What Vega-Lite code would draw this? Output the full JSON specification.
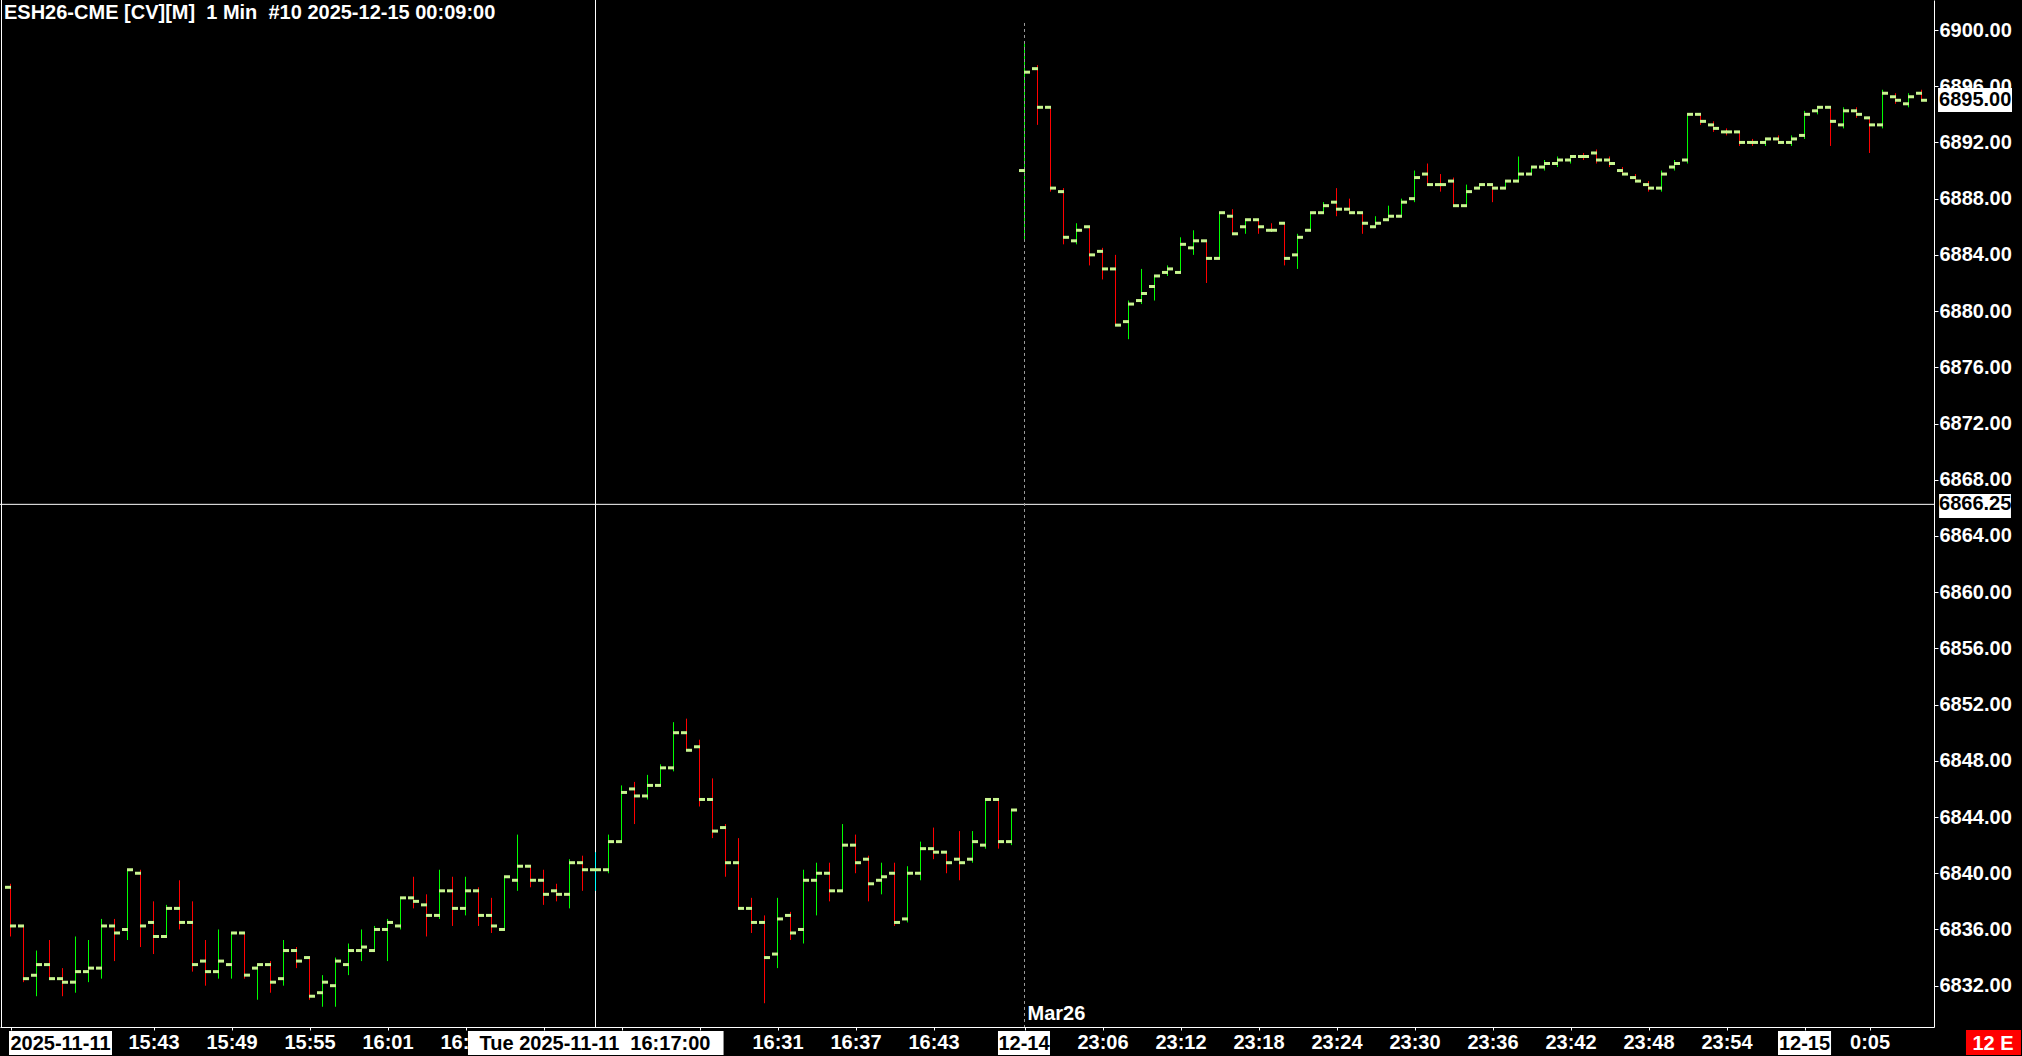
{
"$schema": "https://vega.github.io/schema/vega-lite/v6.json",
"width": 1934, "height": 1027,
"autosize": {"type": "none"},
"padding": {"left": 0, "top": 0, "right": 88, "bottom": 29},
"background": "#000000",
"config": {"view": {"stroke": null}, "font": "Liberation Sans"},
"datasets": {"bars": [
{"i":0,"o":6839,"h":6839.25,"l":6835.5,"c":6836.25},
{"i":1,"o":6836.25,"h":6836.25,"l":6832.25,"c":6832.5},
{"i":2,"o":6832.75,"h":6834.5,"l":6831.25,"c":6833.5},
{"i":3,"o":6833.5,"h":6835.25,"l":6832.5,"c":6832.5},
{"i":4,"o":6832.5,"h":6833.25,"l":6831.25,"c":6832.25},
{"i":5,"o":6832.25,"h":6835.5,"l":6831.5,"c":6833},
{"i":6,"o":6833,"h":6835.25,"l":6832.25,"c":6833.25},
{"i":7,"o":6833.25,"h":6836.75,"l":6832.5,"c":6836.25},
{"i":8,"o":6836.25,"h":6836.75,"l":6833.75,"c":6835.75},
{"i":9,"o":6836,"h":6840.25,"l":6835.25,"c":6840.25},
{"i":10,"o":6840,"h":6840.25,"l":6834.75,"c":6836.25},
{"i":11,"o":6836.5,"h":6838,"l":6834.25,"c":6835.5},
{"i":12,"o":6835.5,"h":6837.75,"l":6835.5,"c":6837.5},
{"i":13,"o":6837.5,"h":6839.5,"l":6836,"c":6836.5},
{"i":14,"o":6836.5,"h":6838,"l":6833,"c":6833.5},
{"i":15,"o":6833.75,"h":6835.25,"l":6832,"c":6833},
{"i":16,"o":6833,"h":6836,"l":6832.5,"c":6833.75},
{"i":17,"o":6833.5,"h":6835.75,"l":6832.5,"c":6835.75},
{"i":18,"o":6835.75,"h":6835.75,"l":6832.5,"c":6832.75},
{"i":19,"o":6833.25,"h":6833.5,"l":6831,"c":6833.5},
{"i":20,"o":6833.5,"h":6833.75,"l":6831.5,"c":6832.25},
{"i":21,"o":6832.5,"h":6835.25,"l":6832,"c":6834.5},
{"i":22,"o":6834.5,"h":6834.75,"l":6833.25,"c":6833.75},
{"i":23,"o":6834,"h":6834,"l":6831,"c":6831.25},
{"i":24,"o":6831.5,"h":6832.75,"l":6830.5,"c":6832.25},
{"i":25,"o":6832,"h":6834,"l":6830.5,"c":6833.75},
{"i":26,"o":6833.5,"h":6835,"l":6832.75,"c":6834.5},
{"i":27,"o":6834.5,"h":6836,"l":6833.75,"c":6834.75},
{"i":28,"o":6834.5,"h":6836.25,"l":6834.5,"c":6836},
{"i":29,"o":6836,"h":6836.75,"l":6833.75,"c":6836.5},
{"i":30,"o":6836.25,"h":6838.25,"l":6836,"c":6838.25},
{"i":31,"o":6838.25,"h":6839.75,"l":6837.5,"c":6838},
{"i":32,"o":6837.75,"h":6838.5,"l":6835.5,"c":6837},
{"i":33,"o":6837,"h":6840.25,"l":6836.75,"c":6838.75},
{"i":34,"o":6838.75,"h":6839.75,"l":6836.25,"c":6837.5},
{"i":35,"o":6837.5,"h":6839.75,"l":6837,"c":6838.75},
{"i":36,"o":6838.75,"h":6839,"l":6836.25,"c":6837},
{"i":37,"o":6837,"h":6838.25,"l":6835.75,"c":6836.25},
{"i":38,"o":6836,"h":6839.75,"l":6836,"c":6839.75},
{"i":39,"o":6839.5,"h":6842.75,"l":6838.75,"c":6840.5},
{"i":40,"o":6840.5,"h":6840.5,"l":6839,"c":6839.5},
{"i":41,"o":6839.5,"h":6840.25,"l":6837.75,"c":6838.5},
{"i":42,"o":6838.75,"h":6839.25,"l":6838,"c":6838.5},
{"i":43,"o":6838.5,"h":6841,"l":6837.5,"c":6840.75},
{"i":44,"o":6840.75,"h":6841.25,"l":6838.75,"c":6840.25},
{"i":45,"o":6840.25,"h":6841.5,"l":6838.75,"c":6840.25},
{"i":46,"o":6840.25,"h":6842.75,"l":6840,"c":6842.25},
{"i":47,"o":6842.25,"h":6846.25,"l":6842.25,"c":6845.75},
{"i":48,"o":6846,"h":6846.5,"l":6843.5,"c":6845.5},
{"i":49,"o":6845.5,"h":6847,"l":6845.25,"c":6846.25},
{"i":50,"o":6846.25,"h":6847.75,"l":6846.25,"c":6847.5},
{"i":51,"o":6847.5,"h":6850.75,"l":6847.25,"c":6850},
{"i":52,"o":6850,"h":6851,"l":6848.75,"c":6848.75},
{"i":53,"o":6849,"h":6849.5,"l":6844.75,"c":6845.25},
{"i":54,"o":6845.25,"h":6846.75,"l":6842.5,"c":6843},
{"i":55,"o":6843.25,"h":6843.5,"l":6839.75,"c":6840.75},
{"i":56,"o":6840.75,"h":6842.5,"l":6837.5,"c":6837.5},
{"i":57,"o":6837.5,"h":6838.25,"l":6835.75,"c":6836.5},
{"i":58,"o":6836.5,"h":6837,"l":6830.75,"c":6834},
{"i":59,"o":6834.25,"h":6838.25,"l":6833.25,"c":6836.75},
{"i":60,"o":6837,"h":6837.25,"l":6835.25,"c":6835.75},
{"i":61,"o":6836,"h":6840.25,"l":6835,"c":6839.5},
{"i":62,"o":6839.5,"h":6840.75,"l":6837,"c":6840},
{"i":63,"o":6840,"h":6840.75,"l":6838,"c":6838.75},
{"i":64,"o":6838.75,"h":6843.5,"l":6838.75,"c":6842},
{"i":65,"o":6842,"h":6842.75,"l":6840,"c":6840.75},
{"i":66,"o":6841,"h":6841.25,"l":6838,"c":6839.25},
{"i":67,"o":6839.5,"h":6840.75,"l":6838.5,"c":6839.75},
{"i":68,"o":6840,"h":6840.75,"l":6836.25,"c":6836.5},
{"i":69,"o":6836.75,"h":6840.5,"l":6836.5,"c":6840},
{"i":70,"o":6840,"h":6842.25,"l":6839.5,"c":6841.75},
{"i":71,"o":6841.75,"h":6843.25,"l":6841,"c":6841.5},
{"i":72,"o":6841.5,"h":6841.5,"l":6840,"c":6840.75},
{"i":73,"o":6841,"h":6843,"l":6839.5,"c":6840.75},
{"i":74,"o":6841,"h":6843,"l":6840.75,"c":6842.25},
{"i":75,"o":6842,"h":6845.25,"l":6841.75,"c":6845.25},
{"i":76,"o":6845.25,"h":6845.25,"l":6841.75,"c":6842.25},
{"i":77,"o":6842.25,"h":6844.5,"l":6842,"c":6844.5},
{"i":78,"o":6890,"h":6899,"l":6885,"c":6897},
{"i":79,"o":6897.25,"h":6897.5,"l":6893.25,"c":6894.5},
{"i":80,"o":6894.5,"h":6894.5,"l":6888.5,"c":6888.75},
{"i":81,"o":6888.5,"h":6888.75,"l":6884.75,"c":6885.25},
{"i":82,"o":6885,"h":6886.25,"l":6884.75,"c":6885.75},
{"i":83,"o":6886,"h":6886,"l":6883.25,"c":6884},
{"i":84,"o":6884.25,"h":6884.5,"l":6882.25,"c":6883},
{"i":85,"o":6883,"h":6884,"l":6879,"c":6879},
{"i":86,"o":6879.25,"h":6880.75,"l":6878,"c":6880.5},
{"i":87,"o":6880.75,"h":6883,"l":6880.5,"c":6881.25},
{"i":88,"o":6881.75,"h":6882.5,"l":6880.75,"c":6882.5},
{"i":89,"o":6882.75,"h":6883.25,"l":6882.5,"c":6883},
{"i":90,"o":6882.75,"h":6885.25,"l":6882.75,"c":6884.75},
{"i":91,"o":6884.5,"h":6885.75,"l":6884,"c":6885},
{"i":92,"o":6885,"h":6885,"l":6882,"c":6883.75},
{"i":93,"o":6883.75,"h":6887,"l":6883.75,"c":6887},
{"i":94,"o":6886.75,"h":6887.25,"l":6885.5,"c":6885.5},
{"i":95,"o":6886,"h":6886.5,"l":6885.5,"c":6886.5},
{"i":96,"o":6886.5,"h":6886.5,"l":6885.5,"c":6886},
{"i":97,"o":6885.75,"h":6886.25,"l":6885.75,"c":6885.75},
{"i":98,"o":6886.25,"h":6886.25,"l":6883.25,"c":6883.75},
{"i":99,"o":6884,"h":6885.5,"l":6883,"c":6885.25},
{"i":100,"o":6885.75,"h":6887,"l":6885.75,"c":6887},
{"i":101,"o":6887,"h":6887.75,"l":6887,"c":6887.5},
{"i":102,"o":6887.75,"h":6888.75,"l":6886.75,"c":6887.25},
{"i":103,"o":6887.25,"h":6888,"l":6887,"c":6887},
{"i":104,"o":6887,"h":6887,"l":6885.5,"c":6886.25},
{"i":105,"o":6886,"h":6886.75,"l":6886,"c":6886.25},
{"i":106,"o":6886.5,"h":6887.5,"l":6886.5,"c":6886.75},
{"i":107,"o":6886.75,"h":6888,"l":6886.75,"c":6887.75},
{"i":108,"o":6888,"h":6890,"l":6887.75,"c":6889.5},
{"i":109,"o":6889.75,"h":6890.5,"l":6889,"c":6889},
{"i":110,"o":6889,"h":6889.75,"l":6888.5,"c":6889},
{"i":111,"o":6889.25,"h":6889.5,"l":6887.5,"c":6887.5},
{"i":112,"o":6887.5,"h":6889,"l":6887.5,"c":6888.5},
{"i":113,"o":6888.75,"h":6889,"l":6888.75,"c":6889},
{"i":114,"o":6889,"h":6889,"l":6887.75,"c":6888.75},
{"i":115,"o":6888.75,"h":6889.25,"l":6888.75,"c":6889.25},
{"i":116,"o":6889.25,"h":6891,"l":6889.25,"c":6889.75},
{"i":117,"o":6889.75,"h":6890.25,"l":6889.75,"c":6890.25},
{"i":118,"o":6890.25,"h":6890.75,"l":6890,"c":6890.5},
{"i":119,"o":6890.5,"h":6891,"l":6890.25,"c":6890.75},
{"i":120,"o":6890.75,"h":6891,"l":6890.5,"c":6891},
{"i":121,"o":6891,"h":6891.25,"l":6890.75,"c":6891},
{"i":122,"o":6891.25,"h":6891.5,"l":6890.5,"c":6890.75},
{"i":123,"o":6890.75,"h":6891,"l":6890.25,"c":6890.5},
{"i":124,"o":6890,"h":6890.25,"l":6889.75,"c":6889.75},
{"i":125,"o":6889.5,"h":6889.75,"l":6889.25,"c":6889.25},
{"i":126,"o":6889,"h":6889.25,"l":6888.5,"c":6888.75},
{"i":127,"o":6888.75,"h":6890,"l":6888.5,"c":6889.75},
{"i":128,"o":6890.25,"h":6890.75,"l":6890,"c":6890.5},
{"i":129,"o":6890.75,"h":6894,"l":6890.5,"c":6894},
{"i":130,"o":6894,"h":6894,"l":6893.25,"c":6893.5},
{"i":131,"o":6893.25,"h":6893.5,"l":6892.75,"c":6893},
{"i":132,"o":6892.75,"h":6893,"l":6892.5,"c":6892.75},
{"i":133,"o":6892.75,"h":6892.75,"l":6891.75,"c":6892},
{"i":134,"o":6892,"h":6892.25,"l":6891.75,"c":6892},
{"i":135,"o":6892,"h":6892.25,"l":6891.75,"c":6892.25},
{"i":136,"o":6892.25,"h":6892.5,"l":6892,"c":6892},
{"i":137,"o":6892,"h":6892.5,"l":6891.75,"c":6892.25},
{"i":138,"o":6892.5,"h":6894.25,"l":6892.25,"c":6894},
{"i":139,"o":6894.25,"h":6894.5,"l":6894,"c":6894.5},
{"i":140,"o":6894.5,"h":6894.5,"l":6891.75,"c":6893.5},
{"i":141,"o":6893.25,"h":6894.5,"l":6893,"c":6894.25},
{"i":142,"o":6894.25,"h":6894.5,"l":6893.75,"c":6894},
{"i":143,"o":6893.75,"h":6893.75,"l":6891.25,"c":6893.25},
{"i":144,"o":6893.25,"h":6895.75,"l":6893,"c":6895.5},
{"i":145,"o":6895.25,"h":6895.5,"l":6894.75,"c":6895},
{"i":146,"o":6894.75,"h":6895.5,"l":6894.5,"c":6895.25},
{"i":147,"o":6895.5,"h":6895.75,"l":6895,"c":6895}
]},
"layer": [
{
 "data": {"name": "bars"},
 "mark": {"type": "rule", "strokeWidth": 1},
 "encoding": {
  "x": {"field": "i", "type": "quantitative",
   "scale": {"domain": [-0.8077, 147.96], "nice": false, "zero": false},
   "axis": {"title": null, "grid": false, "orient": "bottom",
    "values": [0,11,17,23,29,35,41,47,53,59,65,71,78,84,90,96,102,108,114,120,126,132,138,143],
    "labelExpr": "['','15:43','15:49','15:55','16:01','16:07','','','','16:31','16:37','16:43','','23:06','23:12','23:18','23:24','23:30','23:36','23:42','23:48','23:54','','0:05'][indexof([0,11,17,23,29,35,41,47,53,59,65,71,78,84,90,96,102,108,114,120,126,132,138,143], datum.value)]",
    "domainColor": "#ffffff", "domainWidth": 1, "tickColor": "#ffffff", "tickSize": 3, "tickWidth": 1,
    "labelColor": "#ffffff", "labelFont": "Liberation Sans", "labelFontWeight": "bold", "labelFontSize": 20,
    "labelPadding": 2, "labelOverlap": false, "labelBound": false, "labelFlush": false, "labelAlign": "center", "labelBaseline": "top", "zindex": 0}
  },
  "y": {"field": "l", "type": "quantitative",
   "scale": {"domain": [6829.06, 6902.135], "nice": false, "zero": false},
   "axis": {"title": null, "grid": false, "orient": "right",
    "values": [6832,6836,6840,6844,6848,6852,6856,6860,6864,6868,6872,6876,6880,6884,6888,6892,6896,6900],
    "format": ".2f",
    "domainColor": "#ffffff", "domainWidth": 1, "tickColor": "#ffffff", "tickSize": 4, "tickWidth": 1,
    "labelColor": "#ffffff", "labelFont": "Liberation Sans", "labelFontWeight": "bold", "labelFontSize": 20,
    "labelPadding": 1, "labelOverlap": false, "labelBound": false, "labelFlush": false, "labelAlign": "left", "labelBaseline": "middle", "zindex": 0}
  },
  "y2": {"field": "h"},
  "color": {"condition": {"test": "datum.c > datum.o", "value": "#00ff00"}, "value": "#ff0000"}
 }
},
{
 "data": {"values": [{}]},
 "mark": {"type": "rule", "color": "#ffffff", "strokeWidth": 1},
 "encoding": {"x": {"datum": 45, "type": "quantitative"}}
},
{
 "data": {"values": [{}]},
 "mark": {"type": "rule", "color": "#ffffff", "strokeWidth": 1},
 "encoding": {"y": {"datum": 6866.25, "type": "quantitative"}}
},
{
 "data": {"values": [{}]},
 "mark": {"type": "rule", "color": "#ffffff", "strokeWidth": 1},
 "encoding": {"x": {"datum": -0.6923, "type": "quantitative"}}
},
{
 "data": {"values": [{}]},
 "mark": {"type": "rule", "color": "#9a9a9a", "strokeWidth": 1, "strokeDash": [3, 3]},
 "encoding": {"x": {"datum": 78, "type": "quantitative"},
  "y": {"datum": 6900.5, "type": "quantitative"}, "y2": {"datum": 6829.06}}
},
{
 "data": {"name": "bars"},
 "transform": [{"filter": "datum.i == 45"}],
 "mark": {"type": "rule", "color": "#00ffff", "strokeWidth": 1},
 "encoding": {"x": {"field": "i", "type": "quantitative"},
  "y": {"field": "l", "type": "quantitative"}, "y2": {"field": "h"}}
},
{
 "data": {"name": "bars"},
 "mark": {"type": "tick", "orient": "horizontal", "size": 6, "thickness": 3, "xOffset": -2.5, "color": "#c8f590", "opacity": 1},
 "encoding": {"x": {"field": "i", "type": "quantitative"},
  "y": {"field": "o", "type": "quantitative"}}
},
{
 "data": {"name": "bars"},
 "mark": {"type": "tick", "orient": "horizontal", "size": 6, "thickness": 3, "xOffset": 2.5, "color": "#c8f590", "opacity": 1},
 "encoding": {"x": {"field": "i", "type": "quantitative"},
  "y": {"field": "c", "type": "quantitative"}}
},
{
 "data": {"values": [{"t": "ESH26-CME [CV][M]\u00a0 1 Min\u00a0 #10 2025-12-15 00:09:00"}]},
 "mark": {"type": "text", "align": "left", "baseline": "alphabetic", "font": "Liberation Sans", "fontWeight": "bold", "fontSize": 20, "color": "#ffffff"},
 "encoding": {"text": {"field": "t"}, "x": {"datum": -0.5, "type": "quantitative"}, "y": {"datum": 6900.78, "type": "quantitative"}}
},
{
 "data": {"values": [{"t": "Mar26"}]},
 "mark": {"type": "text", "align": "left", "baseline": "alphabetic", "dx": 3, "font": "Liberation Sans", "fontWeight": "bold", "fontSize": 20, "color": "#ffffff"},
 "encoding": {"text": {"field": "t"}, "x": {"datum": 78, "type": "quantitative"}, "y": {"datum": 6829.56, "type": "quantitative"}}
},
{
 "data": {"values": [{}]},
 "mark": {"type": "rect", "color": "#ffffff"},
 "encoding": {"x": {"datum": -0.1154, "type": "quantitative"}, "x2": {"datum": 7.8077},
  "y": {"datum": 6828.775, "type": "quantitative"}, "y2": {"datum": 6827.068}}
},
{
 "data": {"values": [{"t": "2025-11-11"}]},
 "mark": {"type": "text", "align": "center", "baseline": "alphabetic", "font": "Liberation Sans", "fontWeight": "bold", "fontSize": 20, "color": "#000000"},
 "encoding": {"text": {"field": "t"}, "x": {"datum": 3.846, "type": "quantitative"}, "y": {"datum": 6827.423, "type": "quantitative"}}
},
{
 "data": {"values": [{}]},
 "mark": {"type": "rect", "color": "#ffffff"},
 "encoding": {"x": {"datum": 35.19, "type": "quantitative"}, "x2": {"datum": 54.85},
  "y": {"datum": 6828.775, "type": "quantitative"}, "y2": {"datum": 6827.068}}
},
{
 "data": {"values": [{"t": "Tue 2025-11-11\u00a0 16:17:00"}]},
 "mark": {"type": "text", "align": "center", "baseline": "alphabetic", "font": "Liberation Sans", "fontWeight": "bold", "fontSize": 20, "color": "#000000"},
 "encoding": {"text": {"field": "t"}, "x": {"datum": 44.96, "type": "quantitative"}, "y": {"datum": 6827.423, "type": "quantitative"}}
},
{
 "data": {"values": [{}]},
 "mark": {"type": "rect", "color": "#ffffff"},
 "encoding": {"x": {"datum": 75.96, "type": "quantitative"}, "x2": {"datum": 79.96},
  "y": {"datum": 6828.775, "type": "quantitative"}, "y2": {"datum": 6827.068}}
},
{
 "data": {"values": [{"t": "12-14"}]},
 "mark": {"type": "text", "align": "center", "baseline": "alphabetic", "font": "Liberation Sans", "fontWeight": "bold", "fontSize": 20, "color": "#000000"},
 "encoding": {"text": {"field": "t"}, "x": {"datum": 77.96, "type": "quantitative"}, "y": {"datum": 6827.423, "type": "quantitative"}}
},
{
 "data": {"values": [{}]},
 "mark": {"type": "rect", "color": "#ffffff"},
 "encoding": {"x": {"datum": 135.96, "type": "quantitative"}, "x2": {"datum": 140.04},
  "y": {"datum": 6828.775, "type": "quantitative"}, "y2": {"datum": 6827.068}}
},
{
 "data": {"values": [{"t": "12-15"}]},
 "mark": {"type": "text", "align": "center", "baseline": "alphabetic", "font": "Liberation Sans", "fontWeight": "bold", "fontSize": 20, "color": "#000000"},
 "encoding": {"text": {"field": "t"}, "x": {"datum": 138, "type": "quantitative"}, "y": {"datum": 6827.423, "type": "quantitative"}}
},
{
 "data": {"values": [{}]},
 "mark": {"type": "rect", "color": "#ff0000"},
 "encoding": {"x": {"datum": 150.42, "type": "quantitative"}, "x2": {"datum": 154.65},
  "y": {"datum": 6828.846, "type": "quantitative"}, "y2": {"datum": 6827.068}}
},
{
 "data": {"values": [{"t": "12 E"}]},
 "mark": {"type": "text", "align": "center", "baseline": "alphabetic", "font": "Liberation Sans", "fontWeight": "bold", "fontSize": 20, "color": "#ffffff"},
 "encoding": {"text": {"field": "t"}, "x": {"datum": 152.5, "type": "quantitative"}, "y": {"datum": 6827.423, "type": "quantitative"}}
},
{
 "data": {"values": [{}]},
 "mark": {"type": "rect", "color": "#ffffff"},
 "encoding": {"x": {"datum": 148.27, "type": "quantitative"}, "x2": {"datum": 153.96},
  "y": {"datum": 6895.87, "type": "quantitative"}, "y2": {"datum": 6894.16}}
},
{
 "data": {"values": [{"t": "6895.00", "p": 6895}]},
 "mark": {"type": "text", "align": "left", "baseline": "middle", "font": "Liberation Sans", "fontWeight": "bold", "fontSize": 20, "color": "#000000"},
 "encoding": {"text": {"field": "t"}, "x": {"datum": 148.35, "type": "quantitative"}, "y": {"field": "p", "type": "quantitative"}}
},
{
 "data": {"values": [{}]},
 "mark": {"type": "rect", "color": "#ffffff"},
 "encoding": {"x": {"datum": 148.35, "type": "quantitative"}, "x2": {"datum": 153.88},
  "y": {"datum": 6866.98, "type": "quantitative"}, "y2": {"datum": 6865.27}}
},
{
 "data": {"values": [{"t": "6866.25", "p": 6866.25}]},
 "mark": {"type": "text", "align": "left", "baseline": "middle", "font": "Liberation Sans", "fontWeight": "bold", "fontSize": 20, "color": "#000000"},
 "encoding": {"text": {"field": "t"}, "x": {"datum": 148.35, "type": "quantitative"}, "y": {"field": "p", "type": "quantitative"}}
}
]
}
